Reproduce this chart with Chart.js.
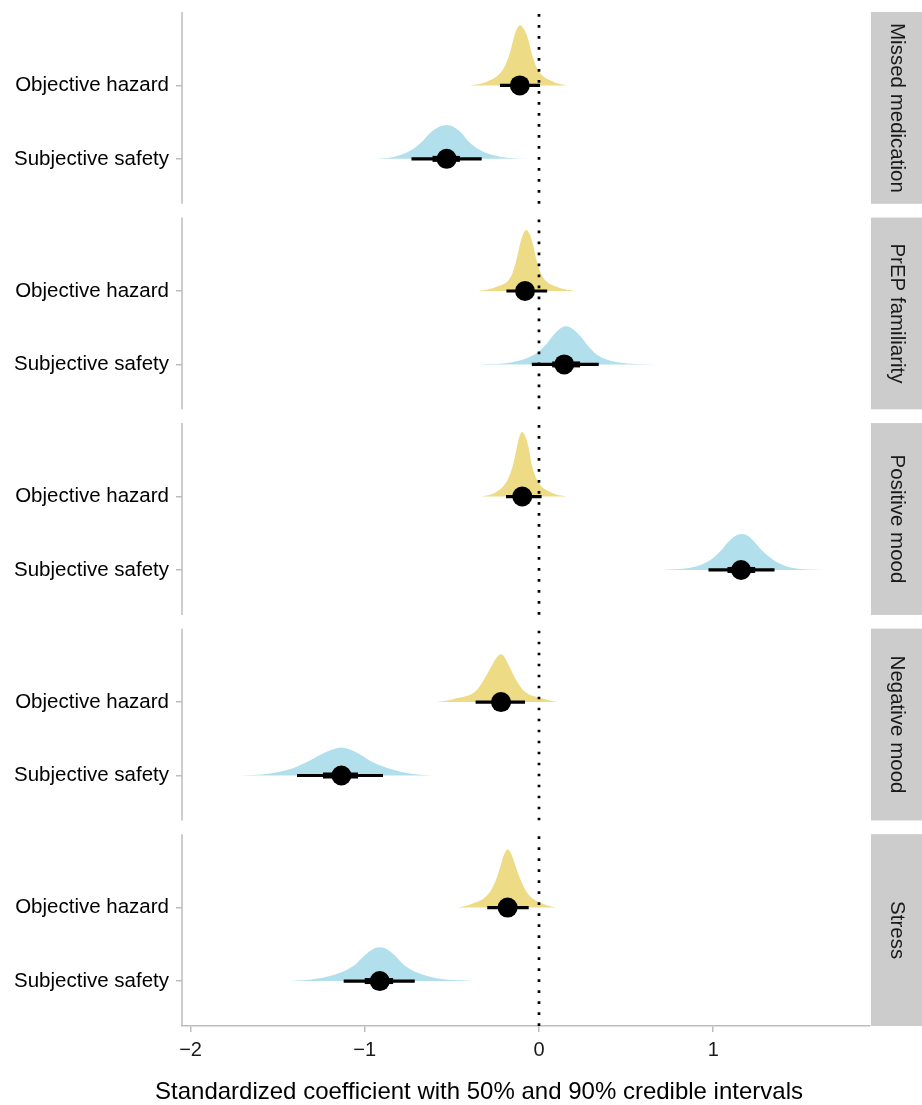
<!DOCTYPE html>
<html>
<head>
<meta charset="utf-8">
<script src="https://cdn.jsdelivr.net/npm/chart.js@4.4.1/dist/chart.umd.min.js"></script>
<style>
  body { margin: 0; background: #fff; }
  canvas { display: block; }
</style>
</head>
<body>
<canvas id="forest" width="922" height="1105"></canvas>
<script>
// facets, top to bottom; each one has the same two predictors
var panels = ['Missed medication', 'PrEP familiarity', 'Positive mood', 'Negative mood', 'Stress'];
var predictors = ['Objective hazard', 'Subjective safety'];
var xTicks = [-2, -1, 0, 1];
var xTitle = 'Standardized coefficient with 50% and 90% credible intervals';

// rows go panel by panel: hazard, safety, hazard, safety ...
var medians = [-0.11, -0.53, -0.08, 0.145, -0.096, 1.16, -0.218, -1.134, -0.18, -0.914];
var lo50 = [-0.15, -0.611, -0.12, 0.076, -0.135, 1.082, -0.27, -1.24, -0.225, -1.0];
var hi50 = [-0.07, -0.454, -0.04, 0.236, -0.055, 1.241, -0.165, -1.039, -0.135, -0.837];
var lo90 = [-0.224, -0.732, -0.187, -0.041, -0.189, 0.973, -0.364, -1.389, -0.297, -1.121];
var hi90 = [0.006, -0.329, 0.047, 0.343, 0.015, 1.352, -0.08, -0.895, -0.059, -0.713];

// posterior density outlines: x positions and heights (in row units)
var densX = [
  [-0.397, -0.30, -0.209, -0.171, -0.148, -0.129, -0.109, -0.085, -0.061, -0.039, -0.006, 0.082, 0.161],
  [-1.0, -0.828, -0.732, -0.674, -0.626, -0.578, -0.53, -0.487, -0.444, -0.401, -0.339, -0.224, -0.011],
  [-0.349, -0.251, -0.158, -0.13, -0.111, -0.092, -0.072, -0.053, -0.033, -0.014, 0.017, 0.109, 0.207],
  [-0.349, -0.154, -0.028, 0.037, 0.08, 0.117, 0.154, 0.195, 0.236, 0.279, 0.333, 0.45, 0.684],
  [-0.329, -0.253, -0.182, -0.148, -0.128, -0.112, -0.096, -0.078, -0.059, -0.042, -0.01, 0.073, 0.159],
  [0.705, 0.868, 0.973, 1.04, 1.082, 1.124, 1.165, 1.203, 1.241, 1.286, 1.356, 1.452, 1.634],
  [-0.588, -0.493, -0.358, -0.31, -0.272, -0.245, -0.218, -0.195, -0.171, -0.138, -0.09, 0.034, 0.102],
  [-1.718, -1.565, -1.412, -1.326, -1.249, -1.19, -1.134, -1.08, -1.029, -0.961, -0.866, -0.722, -0.607],
  [-0.473, -0.387, -0.286, -0.243, -0.218, -0.199, -0.18, -0.159, -0.138, -0.109, -0.067, 0.025, 0.102],
  [-1.431, -1.278, -1.134, -1.052, -1.0, -0.957, -0.914, -0.871, -0.828, -0.78, -0.703, -0.569, -0.378]
];
var densH = [
  [0, 0.05, 0.21, 0.41, 0.62, 0.76, 0.82, 0.76, 0.62, 0.41, 0.21, 0.05, 0],
  [0, 0.03, 0.12, 0.23, 0.35, 0.43, 0.46, 0.43, 0.35, 0.23, 0.12, 0.03, 0],
  [0, 0.05, 0.21, 0.42, 0.62, 0.77, 0.83, 0.77, 0.62, 0.42, 0.21, 0.05, 0],
  [0, 0.03, 0.13, 0.26, 0.39, 0.48, 0.52, 0.48, 0.39, 0.26, 0.13, 0.03, 0],
  [0, 0.05, 0.22, 0.44, 0.66, 0.82, 0.88, 0.82, 0.66, 0.44, 0.22, 0.05, 0],
  [0, 0.03, 0.12, 0.25, 0.37, 0.46, 0.49, 0.46, 0.37, 0.25, 0.12, 0.03, 0],
  [0, 0.04, 0.16, 0.33, 0.49, 0.60, 0.65, 0.60, 0.49, 0.33, 0.16, 0.04, 0],
  [0, 0.02, 0.10, 0.19, 0.29, 0.35, 0.38, 0.35, 0.29, 0.19, 0.10, 0.02, 0],
  [0, 0.05, 0.20, 0.40, 0.59, 0.73, 0.79, 0.73, 0.59, 0.40, 0.20, 0.05, 0],
  [0, 0.03, 0.12, 0.23, 0.35, 0.43, 0.46, 0.43, 0.35, 0.23, 0.12, 0.03, 0]
];

var fillColors = ['#eedb85', '#b2dfec'];
var axisGrey = '#bdbdbd';
var FONT = '"Liberation Sans", Arial, Helvetica, sans-serif';

// y runs downwards in row units; each panel is 2.612 units tall
var PANEL_H = 2.612, GAP = 0.187;
var Y_MAX = panels.length * PANEL_H + (panels.length - 1) * GAP;

function panelTop(k) { return k * (PANEL_H + GAP); }
function rowY(i) { return panelTop(Math.floor(i / 2)) + 1 + (i % 2); }

var rowValues = medians.map(function(m, i) { return rowY(i); });

var datasets = [];

// medians
datasets.push({
  data: medians.map(function(m, i) { return { x: m, y: rowY(i) }; }),
  pointRadius: 10,
  pointBackgroundColor: '#000',
  pointBorderWidth: 0,
  showLine: false,
  order: 0
});

medians.forEach(function(m, i) {
  var y = rowY(i);
  // 50% interval
  datasets.push({
    data: [{ x: lo50[i], y: y }, { x: hi50[i], y: y }],
    showLine: true, borderColor: '#000', borderWidth: 6, pointRadius: 0,
    borderCapStyle: 'butt', order: 1
  });
  // 90% interval
  datasets.push({
    data: [{ x: lo90[i], y: y }, { x: hi90[i], y: y }],
    showLine: true, borderColor: '#000', borderWidth: 3.2, pointRadius: 0,
    borderCapStyle: 'butt', order: 2
  });
  // half-eye density
  datasets.push({
    data: densX[i].map(function(x, j) { return { x: x, y: y - densH[i][j] }; }),
    showLine: true,
    borderWidth: 0,
    borderColor: 'rgba(0,0,0,0)',
    backgroundColor: fillColors[i % 2],
    fill: { value: y },
    pointRadius: 0,
    cubicInterpolationMode: 'monotone',
    order: 3
  });
});

var facets = {
  id: 'facets',
  afterDatasetsDraw: function(chart) {
    var ctx = chart.ctx, xs = chart.scales.x, ys = chart.scales.y;
    var x0 = xs.getPixelForValue(0);
    ctx.save();
    ctx.strokeStyle = '#000';
    ctx.lineWidth = 2.7;
    ctx.setLineDash([2.7, 8.3]);
    panels.forEach(function(name, k) {
      var top = ys.getPixelForValue(panelTop(k));
      var bottom = ys.getPixelForValue(panelTop(k) + PANEL_H);
      ctx.beginPath();
      ctx.moveTo(x0, top + 2);
      ctx.lineTo(x0, bottom);
      ctx.stroke();
    });
    ctx.restore();
  },
  afterDraw: function(chart) {
    var ctx = chart.ctx, ys = chart.scales.y, area = chart.chartArea;
    ctx.save();
    panels.forEach(function(name, k) {
      var top = ys.getPixelForValue(panelTop(k));
      var bottom = ys.getPixelForValue(panelTop(k) + PANEL_H);
      // left axis piece for this panel
      ctx.strokeStyle = axisGrey;
      ctx.lineWidth = 1.5;
      ctx.beginPath();
      ctx.moveTo(area.left, top);
      ctx.lineTo(area.left, bottom);
      ctx.stroke();
      // strip on the right
      ctx.fillStyle = '#cccccc';
      ctx.fillRect(area.right + 1, top, chart.width - area.right - 1, bottom - top);
      ctx.fillStyle = '#1a1a1a';
      ctx.font = '20.5px ' + FONT;
      ctx.textAlign = 'center';
      ctx.textBaseline = 'middle';
      ctx.save();
      ctx.translate((area.right + 1 + chart.width) / 2, (top + bottom) / 2);
      ctx.rotate(Math.PI / 2);
      ctx.fillText(name, 0, 0);
      ctx.restore();
    });
    // axis title
    ctx.fillStyle = '#000';
    ctx.font = '24px ' + FONT;
    ctx.textAlign = 'center';
    ctx.textBaseline = 'middle';
    ctx.fillText(xTitle, 479, 1092);
    ctx.restore();
  }
};

new Chart(document.getElementById('forest'), {
  type: 'scatter',
  data: { datasets: datasets },
  plugins: [facets],
  options: {
    responsive: false,
    animation: false,
    devicePixelRatio: 1,
    layout: { padding: { top: 12, right: 52, bottom: 0, left: 0 } },
    plugins: { legend: { display: false }, tooltip: { enabled: false } },
    scales: {
      x: {
        type: 'linear',
        min: -2.049,
        max: 1.9,
        afterBuildTicks: function(scale) {
          scale.ticks = xTicks.map(function(v) { return { value: v }; });
        },
        afterFit: function(scale) {
          scale.height = 79;
          scale.paddingLeft = 0;
          scale.paddingRight = 0;
        },
        grid: { drawOnChartArea: false, drawTicks: true, tickLength: 6, color: axisGrey, lineWidth: 1.5 },
        border: { display: true, color: axisGrey, width: 1.5 },
        ticks: {
          color: '#1a1a1a',
          padding: 6,
          font: { family: FONT, size: 20 },
          callback: function(v) { return v < 0 ? '\u2212' + (-v) : String(v); }
        }
      },
      y: {
        type: 'linear',
        reverse: true,
        min: 0,
        max: Y_MAX,
        afterBuildTicks: function(scale) {
          scale.ticks = rowValues.map(function(v) { return { value: v }; });
        },
        afterFit: function(scale) {
          scale.width = 182;
          scale.paddingTop = 0;
          scale.paddingBottom = 0;
        },
        grid: { drawOnChartArea: false, drawTicks: true, tickLength: 6, color: axisGrey, lineWidth: 1.5 },
        border: { display: false },
        ticks: {
          autoSkip: false,
          color: '#000',
          padding: 7,
          font: { family: FONT, size: 20.5 },
          callback: function(v, i) { return predictors[i % 2]; }
        }
      }
    }
  }
});
</script>
</body>
</html>
